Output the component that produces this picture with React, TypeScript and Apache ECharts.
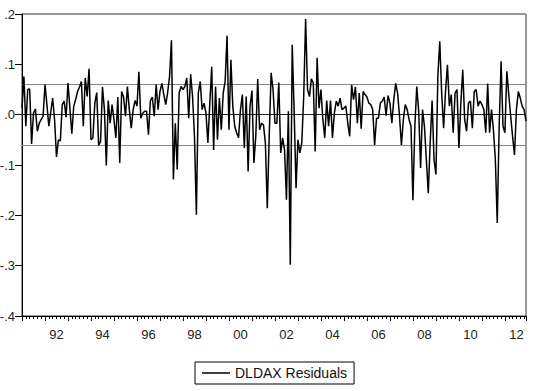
import React, { useEffect, useRef } from "react";
import * as echarts from "echarts";

// Monthly residuals, 1991M01 - 2012M12
const START_YEAR = 1991;
const resid1991to1994 = [
  0.013, 0.076, -0.023, 0.05, 0.051, -0.058, 0.003, 0.011, -0.033, -0.017, -0.01, -0.003,
  0.06, 0.02, -0.023, 0.005, 0.033, -0.01, -0.084, -0.05, -0.052, 0.02, 0.027, -0.005,
  0.063, 0.013, -0.038, 0.017, 0.03, 0.046, 0.055, 0.066, -0.023, 0.073, 0.036, 0.091,
  -0.05, -0.046, 0.023, 0.044, -0.061, -0.053, 0.055, 0.01, -0.101, 0.028, -0.017, 0.02,
];
const resid1995to1998 = [
  -0.01, -0.046, 0.035, -0.096, 0.046, 0.035, -0.003, 0.056, 0.01, -0.027, 0.01, 0.028,
  0.017, 0.085, -0.007, 0.003, 0.007, 0.007, -0.04, 0.028, 0.035, -0.003, 0.06, 0.01,
  0.046, 0.062, 0.04, 0.02, 0.044, 0.076, 0.148, -0.129, -0.017, -0.109, 0.043, 0.056,
  0.05, 0.056, 0.073, -0.007, 0.08, 0.036, -0.043, -0.199, 0.043, 0.066, 0.01, 0.023,
];
const resid1999to2002 = [
  0.003, -0.056, 0.023, 0.095, -0.07, 0.056, -0.05, 0.033, -0.03, 0.043, 0.066, 0.157,
  -0.03, 0.109, 0.017, -0.023, -0.036, -0.046, 0.01, 0.04, -0.066, 0.036, -0.113, 0.017,
  0.048, -0.096, -0.043, 0.071, -0.03, -0.017, -0.02, -0.056, -0.186, -0.043, 0.083, 0.05,
  -0.017, -0.017, 0.064, -0.076, -0.046, -0.07, -0.169, 0.007, -0.298, 0.139, 0.01, -0.146,
];
const resid2003to2006 = [
  -0.05, -0.076, -0.056, 0.036, 0.19, 0.05, 0.036, 0.071, 0.063, -0.073, 0.113, 0.013,
  0.05, -0.01, -0.046, 0.028, -0.023, 0.028, -0.046, 0.003, 0.027, 0.017, 0.033, 0.01,
  0.013, 0.017, -0.017, -0.043, 0.059, 0.03, 0.055, -0.017, 0.043, -0.028, 0.046, 0.04,
  0.035, 0.023, 0.02, 0.01, -0.06, -0.007, -0.007, 0.023, 0.027, 0.035, -0.002, 0.038,
];
const resid2007to2010 = [
  0.023, -0.017, 0.03, 0.062, 0.043, -0.003, -0.06, -0.01, 0.02, 0.01, -0.01, -0.023,
  -0.17, -0.023, 0.056, 0.007, -0.106, 0.01, -0.023, -0.089, -0.156, -0.056, 0.028, -0.089,
  -0.119, 0.076, 0.146, 0.043, -0.027, 0.046, 0.099, 0.017, 0.04, -0.036, 0.043, 0.05,
  -0.066, 0.023, 0.089, -0.01, -0.033, 0.023, 0.027, -0.027, 0.046, 0.05, 0.017, 0.027,
];
const resid2011to2012 = [
  0.02, 0.01, -0.036, 0.062, -0.036, 0.01, -0.03, -0.089, -0.215, -0.023, 0.106, -0.023,
  -0.036, 0.086, 0.04, -0.003, -0.043, -0.08, 0.01, 0.046, 0.033, 0.017, 0.01, -0.013,
];

const residuals = [
  ...resid1991to1994,
  ...resid1995to1998,
  ...resid1999to2002,
  ...resid2003to2006,
  ...resid2007to2010,
  ...resid2011to2012,
];

const BAND = 0.063; // +/- reference lines
const X_LABEL_YEARS = [1992, 1994, 1996, 1998, 2000, 2002, 2004, 2006, 2008, 2010, 2012];
const Y_MIN = -0.4;
const Y_MAX = 0.2;
const Y_STEP = 0.1;
const SERIES_NAME = "DLDAX Residuals";

const FONT = "'Liberation Sans', Arial, sans-serif";

export default function App() {
  const ref = useRef<HTMLDivElement>(null);

  useEffect(() => {
    if (!ref.current) return;
    const chart = echarts.init(ref.current, null, { renderer: "svg" });
    const data = residuals.map((v, i) => [START_YEAR + i / 12, v]);
    const xMax = START_YEAR + (residuals.length - 1) / 12;

    chart.setOption({
      animation: false,
      backgroundColor: "#ffffff",
      grid: {
        left: 22,
        right: 14,
        top: 14,
        bottom: 75,
        containLabel: false,
        outerBoundsMode: "none",
        show: true,
        borderColor: "#333",
        borderWidth: 1,
        backgroundColor: "transparent",
      },
      legend: {
        left: 195,
        top: 362,
        data: [{ name: SERIES_NAME, icon: "rect" }],
        borderColor: "#000",
        borderWidth: 1,
        padding: [4, 7, 4, 7],
        itemWidth: 28,
        itemHeight: 1.5,
        itemGap: 6,
        itemStyle: { color: "#000" },
        textStyle: { fontFamily: FONT, fontSize: 14, color: "#111" },
      },
      xAxis: [
        {
          type: "value",
          min: START_YEAR,
          max: xMax,
          interval: 1,
          axisLine: { show: true, onZero: false, lineStyle: { color: "#000", width: 1 } },
          axisTick: { show: true, length: 5, lineStyle: { color: "#000" } },
          minorTick: { show: true, splitNumber: 6, length: 3, lineStyle: { color: "#000" } },
          axisLabel: { show: false },
          splitLine: { show: false },
        },
        {
          type: "value",
          position: "bottom",
          min: START_YEAR,
          max: xMax,
          interval: 0.5,
          axisLine: { show: false, onZero: false },
          axisTick: { show: false },
          splitLine: { show: false },
          axisLabel: {
            margin: 12,
            fontFamily: FONT,
            fontSize: 13,
            color: "#222",
            formatter: (v: number) => {
              const y = Math.round((v - 0.5) * 2) / 2;
              if (X_LABEL_YEARS.indexOf(y) >= 0 && Math.abs(v - 0.5 - y) < 1e-6) {
                return String(y % 100).padStart(2, "0");
              }
              return "";
            },
          },
        },
      ],
      yAxis: {
        type: "value",
        min: Y_MIN,
        max: Y_MAX,
        interval: Y_STEP,
        axisLine: { show: true, onZero: false, lineStyle: { color: "#000", width: 1 } },
        axisTick: { show: true, length: 7, lineStyle: { color: "#000" } },
        splitLine: { show: false },
        axisLabel: {
          margin: 7,
          fontFamily: FONT,
          fontSize: 13,
          color: "#222",
          formatter: (v: number) => {
            const s = (Math.abs(v) < 1e-9 ? 0 : v).toFixed(1);
            return s.replace("0.", ".");
          },
        },
      },
      series: [
        {
          name: SERIES_NAME,
          type: "line",
          xAxisIndex: 0,
          data,
          symbol: "none",
          showSymbol: false,
          lineStyle: { color: "#000", width: 1.5 },
          itemStyle: { color: "#000" },
          z: 3,
          markLine: {
            silent: true,
            symbol: "none",
            z: 1,
            label: { show: false },
            data: [
              { yAxis: 0, lineStyle: { color: "#222", width: 1.2, type: "solid" } },
              { yAxis: BAND, lineStyle: { color: "#888", width: 1, type: "solid" } },
              { yAxis: -BAND, lineStyle: { color: "#888", width: 1, type: "solid" } },
            ],
          },
        },
      ],
    });

    return () => chart.dispose();
  }, []);

  return (
    <div
      ref={ref}
      style={{ position: "absolute", left: 0, top: 0, width: 540, height: 391 }}
    />
  );
}
